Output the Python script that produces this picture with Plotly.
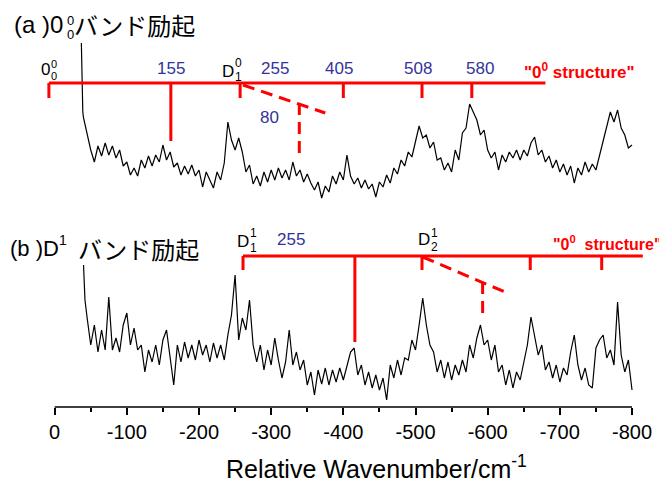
import plotly.graph_objects as go

# ---------------- data ----------------
wn_a = [-37, -38, -39] + list(range(-40, -801, -5))
int_a = [162, 110, 93,
         87, 70, 55, 43, 59, 49, 62, 50, 59, 47,
         55, 39, 43, 30, 37, 29, 45, 37, 49, 39,
         50, 43, 60, 45, 53, 38, 42, 30, 39, 31,
         40, 29, 35, 18, 33, 25, 17, 33, 25, 42,
         83, 65, 55, 67, 53, 33, 40, 21, 29, 19,
         33, 23, 35, 25, 37, 27, 35, 25, 43, 29,
         35, 23, 31, 22, 15, 23, 7, 19, 13, 29,
         21, 33, 25, 50, 29, 21, 27, 17, 25, 16,
         21, 8, 23, 18, 30, 22, 37, 31, 45, 39,
         53, 48, 65, 79, 67, 70, 57, 63, 45, 47,
         35, 42, 33, 55, 45, 72, 77, 101, 93, 85,
         70, 75, 55, 47, 53, 35, 50, 43, 53, 47,
         55, 45, 55, 49, 62, 68, 50, 55, 43, 49,
         37, 45, 33, 41, 30, 39, 22, 37, 30, 43,
         33, 41, 35, 50, 65, 80, 93, 83, 95, 77,
         70, 57, 60]

wn_b = [-40, -42] + list(range(-45, -801, -5))
int_b = [140, 105,
         87, 60, 80, 53, 75, 55, 108, 55, 67, 53,
         80, 92, 60, 77, 55, 60, 33, 55, 43, 60,
         40, 65, 75, 45, 20, 60, 43, 63, 47, 60,
         45, 65, 50, 60, 43, 62, 47, 60, 45, 70,
         90, 130, 65, 87, 75, 105, 60, 43, 60, 35,
         55, 40, 67, 45, 27, 43, 75, 40, 53, 35,
         45, 20, 33, 10, 35, 21, 37, 20, 35, 23,
         37, 25, 40, 53, 57, 30, 40, 20, 33, 17,
         30, 15, 27, 5, 40, 27, 45, 30, 47, 45,
         65, 55, 80, 107, 80, 60, 53, 33, 45, 27,
         43, 25, 40, 30, 45, 33, 60, 47, 67, 80,
         60, 65, 45, 60, 33, 40, 20, 35, 17, 33,
         25, 43, 60, 88, 70, 50, 60, 35, 43, 27,
         40, 23, 37, 30, 53, 70, 40, 25, 37, 20,
         17, 57, 65, 70, 47, 55, 40, 103, 50, 33,
         45, 15]

# progression combs (wavenumber positions)
comb_a_short = [8, -257, -400, -509, -578]
comb_a_long = [-161]
comb_a_end = -680
dash_a = [-261, -375]
dash_a_drop = -339

comb_b_short = [-261, -509, -659, -758]
comb_b_long = [-416]
comb_b_end = -815
dash_b = [-510, -624]
dash_b_drop = -593

tick_vals = [0, -100, -200, -300, -400, -500, -600, -700, -800]
tick_text = ["0", "-100", "-200", "-300", "-400", "-500", "-600", "-700", "-800"]
minor_vals = [-50, -150, -250, -350, -450, -550, -650, -750]

# ---------------- layout constants ----------------
# page body has an 8px margin, so the figure is drawn 8px smaller and offset
PAGE_OFF = 8
W, H = 667 - PAGE_OFF, 482 - PAGE_OFF
ML, MR, MT, MB = 46 - PAGE_OFF, 22, 10 - PAGE_OFF, 75
PW = W - ML - MR
PH = H - MT - MB
AX_LEFT = ML + PAGE_OFF          # left of plot area in screen px
AX_BOTTOM = H - MB + PAGE_OFF    # axis line in screen px
OFF_A, OFF_B = 202, 2
RED = "#FF0000"
BLUE = "#333399"
LAT = "Liberation Sans, Arial, sans-serif"
CJK = "Noto Sans CJK JP, Noto Sans CJK SC, sans-serif"

fig = go.Figure()

fig.add_trace(go.Scatter(x=wn_a, y=[v + OFF_A for v in int_a], mode="lines",
                         line=dict(color="black", width=1.2), showlegend=False))
fig.add_trace(go.Scatter(x=wn_b, y=[v + OFF_B for v in int_b], mode="lines",
                         line=dict(color="black", width=1.2), showlegend=False))


def comb(start, end, shorts, longs, ylev, yshort, ylong):
    xs, ys = [start, end, None], [ylev, ylev, None]
    for s in shorts:
        xs += [s, s, None]
        ys += [ylev, yshort, None]
    for s in longs:
        xs += [s, s, None]
        ys += [ylev, ylong, None]
    return xs, ys


xa, ya = comb(comb_a_short[0], comb_a_end, comb_a_short, comb_a_long, 324, 309, 266)
fig.add_trace(go.Scatter(x=xa, y=ya, mode="lines", line=dict(color=RED, width=3),
                         showlegend=False))
xb, yb = comb(comb_b_short[0], comb_b_end, comb_b_short, comb_b_long, 151, 137, 65)
fig.add_trace(go.Scatter(x=xb, y=yb, mode="lines", line=dict(color=RED, width=3),
                         showlegend=False))

dash_style = dict(color=RED, width=3, dash="12px,7px")
fig.add_trace(go.Scatter(x=dash_a, y=[322, 294], mode="lines", line=dash_style, showlegend=False))
fig.add_trace(go.Scatter(x=[dash_a_drop, dash_a_drop], y=[304, 254], mode="lines",
                         line=dash_style, showlegend=False))
fig.add_trace(go.Scatter(x=dash_b, y=[150, 115], mode="lines", line=dash_style, showlegend=False))
fig.add_trace(go.Scatter(x=[dash_b_drop, dash_b_drop], y=[125, 89], mode="lines",
                         line=dash_style, showlegend=False))


def txt(px, py, text, size=17, color="black", family=LAT, xanchor="center"):
    fig.add_annotation(x=(px - AX_LEFT) / PW, y=(AX_BOTTOM - py) / PH,
                       xref="paper", yref="paper",
                       text=text, showarrow=False, xanchor=xanchor, yanchor="middle",
                       font=dict(size=size, color=color, family=family))


# panel titles
txt(38, 25, "(a )0", 24)
txt(70, 20, "0", 13)
txt(70, 34, "0", 13)
txt(134, 25, "バンド励起", 24, family=CJK)
txt(34, 248, "(b )D", 22)
txt(63, 240, "1", 14)
txt(138, 248, "バンド励起", 24, family=CJK)

# comb (a) labels
txt(45, 70, "0", 17)
txt(54, 64, "0", 11)
txt(54, 76, "0", 11)
txt(171, 69, "155", 17, BLUE)
txt(228, 71, "D", 17)
txt(238, 63, "0", 12)
txt(238, 77, "1", 12)
txt(275, 69, "255", 17, BLUE)
txt(339, 69, "405", 17, BLUE)
txt(418, 69, "508", 17, BLUE)
txt(480, 69, "580", 17, BLUE)
txt(269, 117, "80", 17, BLUE)
txt(579, 71, "<b>\"0<sup>0</sup> structure\"</b>", 17, RED)

# comb (b) labels
txt(243, 241, "D", 17)
txt(253, 233, "1", 12)
txt(253, 248, "1", 12)
txt(291, 240, "255", 17, BLUE)
txt(424, 240, "D", 17)
txt(434, 233, "1", 12)
txt(434, 247, "2", 12)
txt(664, 243, "<b>\"0<sup>0</sup> \u00a0structure\"</b>", 16, RED, xanchor="right")

# x title
txt(376, 467, "Relative Wavenumber/cm<sup>-1</sup>", 25)

fig.add_shape(type="line", xref="x", yref="paper", x0=0, x1=-800, y0=0, y1=0,
              line=dict(color="black", width=1.5))

fig.update_layout(
    width=W, height=H,
    margin=dict(l=ML, r=MR, t=MT, b=MB),
    paper_bgcolor="white", plot_bgcolor="white",
    xaxis=dict(range=[12, -818], showgrid=False, zeroline=False, showline=False,
               tickmode="array", tickvals=tick_vals, ticktext=tick_text,
               ticks="outside", ticklen=7, tickwidth=1.5, tickcolor="black",
               tickfont=dict(size=20, color="black", family=LAT),
               minor=dict(tickmode="array", tickvals=minor_vals, ticks="outside",
                          ticklen=4, tickwidth=1.5, tickcolor="black", showgrid=False)),
    yaxis=dict(range=[0, PH], visible=False, showgrid=False, zeroline=False),
    showlegend=False,
)

fig.write_html("out.html")
